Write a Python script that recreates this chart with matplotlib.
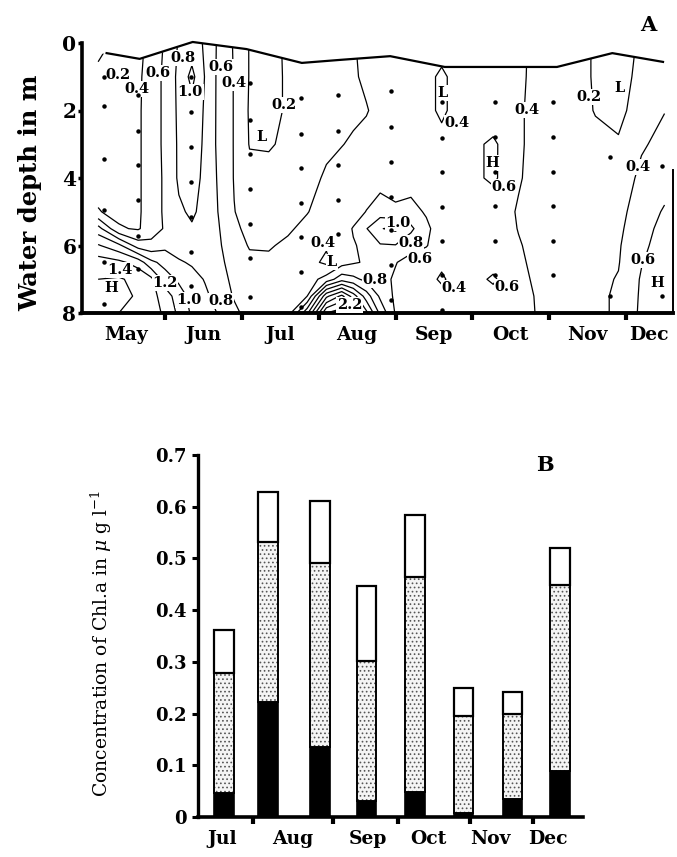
import numpy as np
import matplotlib
matplotlib.use('Agg')
import matplotlib.pyplot as plt

plt.rcParams['font.family'] = 'DejaVu Serif'
plt.rcParams['mathtext.fontset'] = 'dejavuserif'
plt.rcParams['hatch.linewidth'] = 0.7

# ---------------- panel A: chl.a section (depth x time) ----------------
# time axis in months, 0 = start of May
grid_months = [0.13, 0.40, 0.65, 0.82, 1.00, 1.18, 1.35, 1.52, 1.70, 1.90, 2.10,
               2.35, 2.60, 2.85, 3.10, 3.30, 3.45, 3.62, 3.80, 4.00, 4.20, 4.40,
               4.60, 4.80, 5.00, 5.27, 5.60, 5.90, 6.25, 6.60, 6.90, 7.20, 7.50]
grid_depths = [0, 1, 2, 3, 4, 5, 5.5, 6, 6.5, 7, 7.5, 8]

# one profile per time column, surface to bottom
chl_profiles = [
    [0.15, 0.24, 0.28, 0.30, 0.33, 0.41, 0.88, 1.22, 1.50, 1.60, 1.62, 1.60],
    [0.24, 0.28, 0.30, 0.31, 0.32, 0.35, 0.42, 1.05, 1.45, 1.62, 1.65, 1.60],
    [0.33, 0.36, 0.37, 0.37, 0.37, 0.37, 0.38, 0.70, 1.32, 1.55, 1.58, 1.50],
    [0.48, 0.50, 0.50, 0.50, 0.50, 0.50, 0.50, 0.66, 1.05, 1.45, 1.48, 1.45],
    [0.62, 0.64, 0.64, 0.64, 0.63, 0.63, 0.62, 0.75, 0.93, 1.10, 1.30, 1.38],
    [0.82, 0.85, 0.84, 0.83, 0.83, 0.77, 0.70, 0.72, 0.82, 0.96, 1.10, 1.15],
    [0.88, 1.06, 0.92, 0.90, 0.87, 0.83, 0.78, 0.70, 0.78, 0.86, 0.93, 0.97],
    [0.78, 0.79, 0.78, 0.77, 0.76, 0.74, 0.72, 0.68, 0.72, 0.79, 0.83, 0.86],
    [0.56, 0.55, 0.55, 0.55, 0.57, 0.59, 0.61, 0.63, 0.66, 0.70, 0.74, 0.79],
    [0.38, 0.39, 0.39, 0.39, 0.39, 0.405, 0.43, 0.46, 0.50, 0.54, 0.58, 0.65],
    [0.19, 0.19, 0.18, 0.19, 0.26, 0.33, 0.36, 0.39, 0.43, 0.47, 0.50, 0.52],
    [0.16, 0.15, 0.15, 0.18, 0.27, 0.34, 0.37, 0.39, 0.42, 0.45, 0.47, 0.48],
    [0.22, 0.22, 0.22, 0.24, 0.30, 0.36, 0.385, 0.42, 0.45, 0.47, 0.48, 0.50],
    [0.28, 0.28, 0.29, 0.31, 0.35, 0.395, 0.43, 0.45, 0.47, 0.50, 0.60, 1.15],
    [0.32, 0.33, 0.34, 0.37, 0.42, 0.45, 0.45, 0.42, 0.36, 0.68, 1.55, 2.20],
    [0.36, 0.37, 0.38, 0.395, 0.46, 0.50, 0.53, 0.50, 0.52, 0.92, 1.85, 2.32],
    [0.39, 0.38, 0.37, 0.42, 0.47, 0.53, 0.61, 0.59, 0.58, 0.85, 1.50, 2.00],
    [0.44, 0.43, 0.39, 0.45, 0.50, 0.605, 0.79, 0.63, 0.62, 0.75, 1.10, 1.45],
    [0.46, 0.46, 0.45, 0.48, 0.52, 0.70, 0.99, 0.78, 0.66, 0.67, 0.76, 0.95],
    [0.47, 0.47, 0.47, 0.50, 0.50, 0.64, 1.04, 0.79, 0.61, 0.57, 0.56, 0.58],
    [0.48, 0.47, 0.47, 0.50, 0.52, 0.66, 0.84, 0.68, 0.52, 0.52, 0.52, 0.52],
    [0.47, 0.46, 0.46, 0.48, 0.50, 0.58, 0.64, 0.61, 0.50, 0.47, 0.48, 0.50],
    [0.50, 0.36, 0.36, 0.47, 0.50, 0.50, 0.50, 0.50, 0.44, 0.37, 0.47, 0.50],
    [0.50, 0.47, 0.47, 0.50, 0.52, 0.52, 0.52, 0.52, 0.50, 0.48, 0.50, 0.50],
    [0.50, 0.50, 0.50, 0.55, 0.55, 0.50, 0.50, 0.52, 0.53, 0.53, 0.52, 0.50],
    [0.48, 0.48, 0.46, 0.64, 0.64, 0.46, 0.48, 0.50, 0.53, 0.63, 0.53, 0.50],
    [0.43, 0.43, 0.42, 0.42, 0.41, 0.39, 0.395, 0.41, 0.42, 0.43, 0.44, 0.45],
    [0.35, 0.34, 0.34, 0.34, 0.35, 0.35, 0.35, 0.35, 0.36, 0.37, 0.38, 0.38],
    [0.30, 0.30, 0.30, 0.31, 0.32, 0.33, 0.33, 0.34, 0.34, 0.35, 0.35, 0.35],
    [0.18, 0.18, 0.19, 0.25, 0.30, 0.32, 0.33, 0.34, 0.35, 0.36, 0.37, 0.37],
    [0.14, 0.13, 0.15, 0.22, 0.30, 0.34, 0.36, 0.38, 0.39, 0.41, 0.42, 0.42],
    [0.22, 0.25, 0.29, 0.38, 0.44, 0.50, 0.53, 0.56, 0.59, 0.62, 0.63, 0.64],
    [0.30, 0.34, 0.395, 0.45, 0.52, 0.62, 0.66, 0.68, 0.70, 0.72, 0.72, 0.70],
]
contour_levels = [0.2, 0.4, 0.6, 0.8, 1.0, 1.2, 1.4, 1.6, 1.8, 2.0, 2.2]

# water surface line
surface_months = [0.24, 0.67, 1.36, 2.06, 2.78, 3.28, 3.93, 4.64, 6.10, 6.82, 7.48]
surface_depths = [0.30, 0.47, -0.03, 0.18, 0.59, 0.50, 0.39, 0.71, 0.71, 0.30, 0.56]

# sampling points
station_months = [0.20, 0.65, 1.34, 2.11, 2.77, 3.25, 3.94, 4.61, 5.30, 6.05, 6.79, 7.47]
station_depths = [
    [1.0, 1.87, 3.43, 4.95, 6.5, 7.73],
    [1.54, 2.6, 3.6, 4.66, 5.72, 6.7],
    [1.0, 2.04, 3.08, 4.12, 5.16, 6.19, 7.2],
    [1.19, 2.28, 3.29, 4.33, 5.36, 6.37, 7.52],
    [1.63, 2.7, 3.7, 4.74, 5.75, 6.79, 7.82],
    [1.54, 2.6, 3.6, 4.65, 5.66],
    [1.41, 2.48, 3.52, 4.56, 5.54, 6.58, 7.61],
    [1.74, 2.8, 3.83, 4.85, 5.86, 6.88, 7.9],
    [1.74, 2.79, 3.82, 4.84, 5.86, 6.88],
    [1.74, 2.79, 3.82, 4.84, 5.86, 6.88],
    [3.39, 7.49],
    [3.63, 7.49],
]

# isoline labels (text, month, depth)
iso_labels = [
    ('0.2', 0.39, 0.95), ('0.4', 0.64, 1.36), ('0.6', 0.91, 0.89), ('0.8', 1.23, 0.45),
    ('1.0', 1.33, 1.45), ('0.6', 1.73, 0.71), ('0.4', 1.90, 1.19), ('0.2', 2.55, 1.84),
    ('L', 2.26, 2.79), ('1.4', 0.41, 6.73), ('H', 0.30, 7.26), ('1.2', 1.00, 7.11),
    ('1.0', 1.31, 7.61), ('0.8', 1.73, 7.64), ('0.4', 3.06, 5.93), ('L', 3.17, 6.49),
    ('1.0', 4.03, 5.33), ('0.8', 4.20, 5.93), ('0.6', 4.32, 6.40), ('0.8', 3.73, 7.02),
    ('2.2', 3.40, 7.76), ('0.4', 4.76, 7.26), ('0.6', 5.45, 7.23), ('L', 4.61, 1.48),
    ('0.4', 4.80, 2.37), ('H', 5.26, 3.56), ('0.6', 5.41, 4.27), ('0.4', 5.71, 1.99),
    ('0.2', 6.52, 1.60), ('L', 6.92, 1.33), ('0.4', 7.15, 3.67), ('0.6', 7.22, 6.43),
    ('H', 7.41, 7.11),
]

month_edges_a = [1, 2, 3, 4, 5, 6, 7]
month_centers_a = [0.5, 1.5, 2.5, 3.5, 4.5, 5.5, 6.5, 7.3]
month_names_a = ['May', 'Jun', 'Jul', 'Aug', 'Sep', 'Oct', 'Nov', 'Dec']

# ---------------- panel B: chl.a fractions ----------------
b_dates = [0.37, 1.00, 1.74, 2.41, 3.10, 3.79, 4.49, 5.17]
b_bottom_part = [0.046, 0.222, 0.136, 0.031, 0.049, 0.008, 0.035, 0.089]
b_middle_part = [0.232, 0.310, 0.355, 0.271, 0.415, 0.187, 0.165, 0.360]
b_top_part = [0.084, 0.097, 0.120, 0.145, 0.120, 0.055, 0.042, 0.071]
month_edges_b = [0.79, 1.93, 2.86, 3.89, 4.79]
month_centers_b = [0.34, 1.36, 2.43, 3.29, 4.17, 5.00]
month_names_b = ['Jul', 'Aug', 'Sep', 'Oct', 'Nov', 'Dec']

# ---------------- figure ----------------
W, H = 677, 857
fig = plt.figure(figsize=(W / 100, H / 100), dpi=100)
bold = dict(fontweight='bold', family='DejaVu Serif')

axA = fig.add_axes([82 / W, 1 - 313 / H, (673 - 82) / W, (313 - 43) / H])
chl = np.array(chl_profiles).T
axA.contour(grid_months, grid_depths, chl, levels=contour_levels,
            colors='k', linewidths=0.9, zorder=2)

# blank out what lies above the water surface
fill_x = [grid_months[0]] + surface_months + [grid_months[-1]]
fill_d = [surface_depths[0]] + surface_depths + [surface_depths[-1]]
axA.fill_between(fill_x, -1, fill_d, color='white', zorder=3, lw=0)
axA.plot(surface_months, surface_depths, color='k', lw=1.6, zorder=6,
         clip_on=False)

for mx, depths in zip(station_months, station_depths):
    axA.plot([mx] * len(depths), depths, 'o', color='k', ms=2.2, zorder=7)

for txt, mx, dz in iso_labels:
    axA.text(mx, dz, txt, ha='center', va='center', fontsize=10.5, zorder=5,
             bbox=dict(boxstyle='square,pad=0.05', fc='white', ec='none'), **bold)

axA.set_xlim(-0.08, 7.61)
axA.set_ylim(8, 0)
axA.spines['top'].set_visible(False)
axA.spines['right'].set_bounds(3.76, 8)
axA.spines['right'].set_linewidth(1.4)
axA.spines['left'].set_linewidth(2.6)
axA.spines['bottom'].set_linewidth(2.8)
axA.set_xticks(month_edges_a)
axA.set_xticklabels([])
axA.set_xticks(month_centers_a, minor=True)
axA.set_xticklabels(month_names_a, minor=True, fontsize=13.5, **bold)
axA.tick_params(axis='x', which='major', direction='out', length=5, width=3)
axA.tick_params(axis='x', which='minor', length=0, pad=9)
axA.set_yticks([0, 2, 4, 6, 8])
axA.set_yticklabels(['0', '2', '4', '6', '8'], fontsize=14.5, **bold)
axA.tick_params(axis='y', direction='out', length=3, width=2.5, pad=1)
fig.text(30 / W, 1 - 193 / H, 'Water depth in m', rotation=90, ha='center',
         va='center', fontsize=17.5, **bold)
fig.text(648 / W, 1 - 25 / H, 'A', ha='center', va='center', fontsize=15, **bold)

axB = fig.add_axes([198 / W, 1 - 817 / H, (583 - 198) / W, (817 - 455) / H])
bw = 0.28
axB.bar(b_dates, b_bottom_part, bw, color='k', edgecolor='k', lw=1.2)
axB.bar(b_dates, b_middle_part, bw, bottom=b_bottom_part, color='#f4f4f4',
        edgecolor='#555555', hatch='....', lw=0)
lower = np.array(b_bottom_part) + np.array(b_middle_part)
axB.bar(b_dates, b_middle_part, bw, bottom=b_bottom_part, fill=False,
        edgecolor='k', lw=1.4)
axB.bar(b_dates, b_top_part, bw, bottom=lower, color='white', edgecolor='k', lw=1.6)

axB.set_xlim(0, 5.5)
axB.set_ylim(0, 0.7)
axB.spines['top'].set_visible(False)
axB.spines['right'].set_visible(False)
axB.spines['left'].set_linewidth(2.4)
axB.spines['bottom'].set_linewidth(2.6)
axB.set_xticks(month_edges_b)
axB.set_xticklabels([])
axB.set_xticks(month_centers_b, minor=True)
axB.set_xticklabels(month_names_b, minor=True, fontsize=13.5, **bold)
axB.tick_params(axis='x', which='major', direction='out', length=5, width=3)
axB.tick_params(axis='x', which='minor', length=0, pad=9)
yt = [0, 0.1, 0.2, 0.3, 0.4, 0.5, 0.6, 0.7]
axB.set_yticks(yt)
axB.set_yticklabels(['0'] + ['%.1f' % v for v in yt[1:]], fontsize=13, **bold)
axB.tick_params(axis='y', direction='out', length=4, width=2.2, pad=4)
fig.text(101 / W, 1 - 643 / H, 'Concentration of Chl.a in $\\mu$ g l$^{-1}$',
         rotation=90, ha='center', va='center', fontsize=13.5, family='DejaVu Serif')
fig.text(545 / W, 1 - 465 / H, 'B', ha='center', va='center', fontsize=15, **bold)

fig.savefig('out.png', dpi=100)
